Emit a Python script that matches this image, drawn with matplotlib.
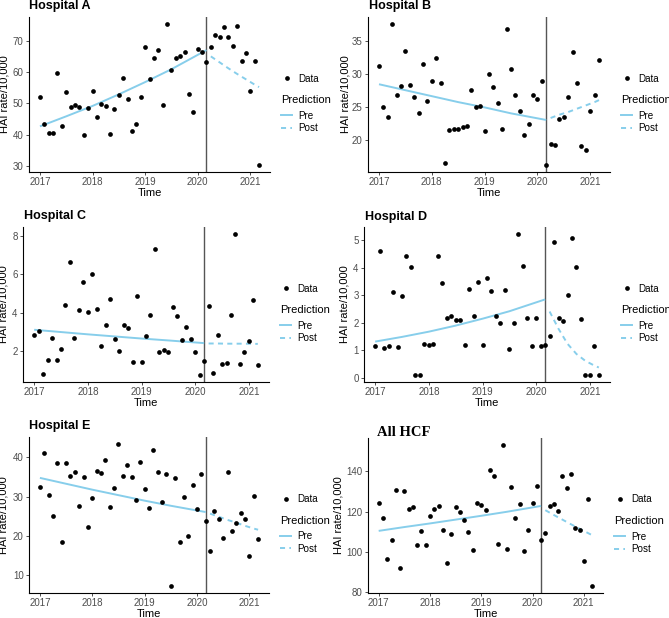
"""
六家医疗机构 HAI 发生率（/10,000）中断时间序列图：月度散点 + 干预前/后拟合曲线。
"""
import matplotlib
matplotlib.use("Agg")
import matplotlib.pyplot as plt
from matplotlib.lines import Line2D
import numpy as np

# =========================
# 数据区（2017-01 ~ 2021-03，共 51 个月）
# =========================
MONTHS = np.arange(51)
BREAK_MONTH = 38          # 2020-03 干预分界
PRE_KNOTS = [0, 6, 12, 18, 24, 30, 38]
POST_KNOTS = [39, 41, 43, 45, 47, 49, 50]

HOSP_A = [52.0, 43.5, 40.6, 40.7, 59.8, 42.9, 53.5, 48.9, 49.4, 48.8,
          40.0, 48.6, 54.0, 45.6, 49.7, 49.3, 40.3, 48.2, 52.8, 58.2,
          51.5, 41.3, 43.4, 52.2, 68.1, 57.7, 64.6, 66.9, 49.6, 75.3,
          60.6, 64.6, 65.1, 66.4, 53.0, 47.3, 67.3, 66.5, 63.3, 68.1,
          71.9, 71.2, 74.3, 71.1, 68.3, 74.8, 63.5, 66.0, 54.1, 63.5, 30.4]
HOSP_B = [31.2, 25.0, 23.6, 37.6, 26.9, 28.2, 33.5, 28.4, 26.6, 24.2,
          31.6, 25.9, 29.0, 32.5, 28.7, 16.6, 21.6, 21.7, 21.7, 22.0,
          22.2, 27.6, 25.1, 25.2, 21.4, 30.0, 28.1, 25.7, 21.8, 36.9,
          30.8, 26.9, 24.4, 20.9, 22.5, 26.9, 26.2, 29.0, 16.3, 19.4,
          19.3, 23.3, 23.5, 26.6, 33.3, 28.7, 19.2, 18.5, 24.4, 26.8, 32.2]
HOSP_C = [2.85, 3.05, 0.78, 1.49, 2.68, 1.49, 2.07, 4.42, 6.65, 2.68,
          4.16, 5.60, 4.05, 6.05, 4.21, 2.26, 3.34, 4.71, 2.63, 2.00,
          3.34, 3.17, 1.42, 4.85, 1.39, 2.78, 3.86, 7.35, 1.96, 2.02,
          1.96, 4.28, 3.83, 2.54, 3.24, 2.61, 1.96, 0.73, 1.48, 4.36,
          0.83, 2.84, 1.31, 1.36, 3.86, 8.12, 1.33, 1.96, 2.52, 4.67, 1.26]
HOSP_D = [1.15, 4.60, 1.10, 1.16, 3.13, 1.11, 2.98, 4.44, 4.03, 0.11,
          0.11, 1.22, 1.21, 1.25, 4.44, 3.43, 2.18, 2.26, 2.11, 2.11,
          1.20, 3.22, 2.25, 3.47, 1.21, 3.61, 3.16, 2.25, 2.01, 3.18,
          1.05, 2.00, 5.22, 4.07, 2.17, 1.16, 2.17, 1.15, 1.20, 1.51,
          4.92, 2.17, 2.05, 3.01, 5.08, 4.02, 2.13, 0.11, 0.11, 1.15, 0.11]
HOSP_E = [32.6, 41.2, 30.5, 25.0, 38.5, 18.6, 38.6, 35.4, 36.3, 27.6,
          34.9, 22.2, 29.8, 36.5, 36.0, 39.4, 27.4, 32.3, 43.4, 35.4,
          38.1, 35.0, 29.2, 38.8, 31.9, 27.1, 41.8, 36.2, 28.7, 35.9,
          7.3, 34.7, 18.4, 30.0, 20.1, 32.9, 26.9, 35.9, 23.9, 16.2,
          26.3, 24.3, 19.6, 36.2, 21.4, 23.4, 25.8, 24.4, 14.8, 30.3, 19.2]
ALL_HCF = [124.1, 116.8, 96.4, 105.8, 130.5, 91.9, 130.3, 121.2, 122.5, 103.3,
           110.4, 103.3, 117.7, 121.3, 122.7, 110.6, 94.5, 108.6, 122.3, 119.7,
           115.9, 109.9, 101.1, 124.5, 123.5, 121.0, 140.9, 137.9, 103.8, 153.1,
           101.5, 132.1, 116.8, 123.6, 100.6, 110.7, 124.1, 132.9, 105.9, 109.2,
           122.7, 123.6, 120.3, 137.9, 131.6, 138.7, 111.7, 110.6, 95.6, 126.1, 83.0]

# 拟合曲线（在 PRE_KNOTS / POST_KNOTS 月份处读取的值）
PRE_A = [42.7, 45.9, 49.2, 52.9, 56.8, 60.9, 67.0]
POST_A = [65.0, 63.1, 61.2, 59.4, 57.7, 56.0, 55.2]
PRE_B = [28.5, 27.6, 26.7, 25.8, 25.0, 24.1, 23.1]
POST_B = [23.4, 23.9, 24.3, 24.8, 25.3, 25.8, 26.1]
PRE_C = [3.10, 2.98, 2.86, 2.75, 2.64, 2.54, 2.40]
POST_C = [2.38, 2.38, 2.37, 2.37, 2.37, 2.36, 2.36]
PRE_D = [1.32, 1.49, 1.68, 1.90, 2.15, 2.42, 2.85]
POST_D = [2.41, 1.78, 1.24, 0.87, 0.62, 0.45, 0.38]
PRE_E = [34.8, 33.3, 31.8, 30.4, 29.0, 27.7, 26.1]
POST_E = [25.7, 24.9, 24.1, 23.4, 22.6, 21.9, 21.6]
PRE_F = [110.4, 112.3, 114.1, 116.0, 117.9, 119.9, 122.8]
POST_F = [120.7, 118.3, 116.0, 113.7, 111.5, 109.3, 108.2]

TITLES = ["Hospital A", "Hospital B", "Hospital C", "Hospital D", "Hospital E", "All HCF"]
YTICKS = [[30, 40, 50, 60, 70], [20, 25, 30, 35], [2, 4, 6, 8],
          [0, 1, 2, 3, 4, 5], [10, 20, 30, 40], [80, 100, 120, 140]]
XTICKS = [2017, 2018, 2019, 2020, 2021]

# =========================
# 样式
# =========================
W, H = 669, 618
LINE_COLOR = "#87CEEB"
TICK_COLOR = "#4D4D4D"
DASH = (2.6, 2.2)

# 每个面板：坐标轴像素框 (left, top, right, bottom)、标题基线、y 轴标题中心 x
AX_BOXES = [(29, 17, 270, 172), (368, 17, 610, 172),
            (23, 227, 269, 382), (364, 227, 610, 382),
            (29, 437, 269, 593), (368, 438, 603, 593)]
TITLE_POS = [(29, 8.5), (369, 8.5), (24, 219), (365, 220), (29, 429), (377, 436)]
YLAB_X = [4.5, 345, 4, 344.7, 4, 338.5]


def fx(px):
    return px / W


def fy(py):
    return 1 - py / H


def draw_panel(fig, k, values, pre, post):
    left, top, right, bottom = AX_BOXES[k]
    ax = fig.add_axes([fx(left), fy(bottom), (right - left) / W, (bottom - top) / H])

    t = 2017 + MONTHS / 12
    t_pre = 2017 + np.array(PRE_KNOTS) / 12
    t_post = 2017 + np.array(POST_KNOTS) / 12

    ax.plot(t, values, "o", color="black", markersize=3.4, markeredgewidth=0, zorder=3)
    ax.plot(t_pre, pre, color=LINE_COLOR, lw=1.4, solid_capstyle="butt", zorder=2)
    ax.plot(t_post, post, color=LINE_COLOR, lw=1.4, dashes=DASH, zorder=2)
    ax.axvline(2017 + BREAK_MONTH / 12, color="#555555", lw=1.0, zorder=1)

    ax.set_xticks(XTICKS)
    ax.set_yticks(YTICKS[k])
    ax.tick_params(direction="out", length=2.4, width=0.6, pad=1.5,
                   color="#333333", labelcolor=TICK_COLOR, labelsize=7)
    for side in ("top", "right"):
        ax.spines[side].set_visible(False)
    for side in ("left", "bottom"):
        ax.spines[side].set_color("black")
        ax.spines[side].set_linewidth(0.8)

    # 标题（All HCF 为衬线字体）
    tx, ty = TITLE_POS[k]
    if k == 5:
        fig.text(fx(tx), fy(ty), TITLES[k], fontsize=10.5, fontweight="bold",
                 family=["Liberation Serif"], ha="left", va="baseline")
    else:
        fig.text(fx(tx), fy(ty), TITLES[k], fontsize=9, fontweight="bold",
                 ha="left", va="baseline")

    mid_y = (top + bottom) / 2
    fig.text(fx((left + right) / 2), fy(bottom + 21), "Time", fontsize=8,
             ha="center", va="center")
    fig.text(fx(YLAB_X[k]), fy(mid_y), "HAI rate/10,000", fontsize=8,
             rotation=90, ha="center", va="center")

    # 图例：Data / Prediction 标题 / Pre、Post（右侧可能被画布截断，与原图一致）
    dot = Line2D([0], [0], marker="o", color="black", linestyle="none",
                 markersize=3.4, markeredgewidth=0)
    fig.legend(handles=[dot], labels=["Data"], loc="center left",
               bbox_to_anchor=(fx(right + 11), fy(mid_y - 16)),
               frameon=False, fontsize=7.1, handlelength=1.15, handletextpad=0.55,
               borderpad=0, borderaxespad=0)
    fig.text(fx(right + 11.5), fy(mid_y + 5.5), "Prediction", fontsize=8,
             ha="left", va="center")
    pre_h = Line2D([0], [0], color=LINE_COLOR, lw=1.4)
    post_h = Line2D([0], [0], color=LINE_COLOR, lw=1.4, dashes=DASH)
    fig.legend(handles=[pre_h, post_h], labels=["Pre", "Post"],
               loc="center left", bbox_to_anchor=(fx(right + 11), fy(mid_y + 27.5)),
               frameon=False, fontsize=7.1, handlelength=1.15, handletextpad=0.55,
               labelspacing=0.25, borderpad=0, borderaxespad=0)
    return ax


def main():
    plt.rcParams["font.family"] = ["Liberation Sans", "DejaVu Sans"]
    fig = plt.figure(figsize=(W / 100, H / 100), dpi=100)

    series = [HOSP_A, HOSP_B, HOSP_C, HOSP_D, HOSP_E, ALL_HCF]
    pres = [PRE_A, PRE_B, PRE_C, PRE_D, PRE_E, PRE_F]
    posts = [POST_A, POST_B, POST_C, POST_D, POST_E, POST_F]
    for k in range(6):
        draw_panel(fig, k, series[k], pres[k], posts[k])

    fig.savefig("out.png", dpi=100, facecolor="white")
    plt.close(fig)


if __name__ == "__main__":
    main()
